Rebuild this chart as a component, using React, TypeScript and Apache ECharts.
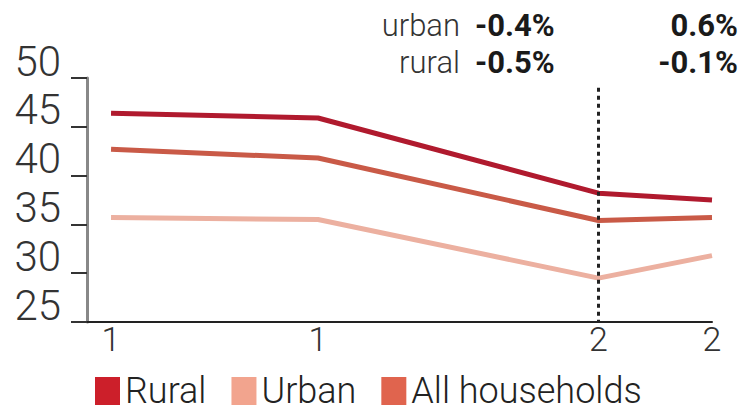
import React, { useEffect, useRef } from "react";
import * as echarts from "echarts";

const xValues = [1993, 1999.2, 2007.6, 2011];
const xLabels = ["1", "1", "2", "2"];
const seriesNames = ["Rural", "Urban", "All households"];
const rural = [46.4, 45.9, 38.2, 37.5];
const urban = [35.7, 35.5, 29.5, 31.8];
const allHouseholds = [42.7, 41.8, 35.4, 35.7];
const legendColors = ["#cc1f2a", "#f2a48e", "#e0644e"];
const lineColors = ["#b01a2e", "#ecb0a0", "#c95a47"];
const annotRows = [
  { label: "urban", a: "-0.4%", b: "0.6%" },
  { label: "rural", a: "-0.5%", b: "-0.1%" },
];

const FONT = "Roboto, 'Open Sans', sans-serif";

export default function App() {
  const ref = useRef<HTMLDivElement>(null);
  useEffect(() => {
    if (!ref.current) return;
    const chart = echarts.init(ref.current, null, { renderer: "svg" });
    const datasets = [rural, urban, allHouseholds];
    const rowY = [25, 62];
    const graphics: any[] = [];
    annotRows.forEach((r, i) => {
      graphics.push({
        type: "text",
        style: { text: r.label, x: 460, y: rowY[i], textAlign: "right", textVerticalAlign: "middle", fill: "#333", font: `300 31px ${FONT}`, lineHeight: 31 },
      });
      graphics.push({
        type: "text",
        style: { text: r.a, x: 475, y: rowY[i], textAlign: "left", textVerticalAlign: "middle", fill: "#1a1a1a", font: `bold 31px ${FONT}`, lineHeight: 31 },
      });
      graphics.push({
        type: "text",
        style: { text: r.b, x: 738, y: rowY[i], textAlign: "right", textVerticalAlign: "middle", fill: "#1a1a1a", font: `bold 31px ${FONT}`, lineHeight: 31 },
      });
    });
    chart.setOption({
      animation: false,
      backgroundColor: "#fff",
      grid: { left: 87, right: 27, top: 78, bottom: 90, containLabel: false, outerBoundsMode: "none" },
      legend: {
        data: seriesNames,
        left: 90,
        top: 368,
        icon: "rect",
        itemWidth: 25,
        itemHeight: 28,
        itemGap: 25,
        textStyle: { fontSize: 36, color: "#222", fontFamily: FONT, fontWeight: 300 },
      },
      xAxis: {
        type: "value",
        min: 1992.28,
        max: 2011,
        splitLine: { show: false },
        axisLine: { show: true, lineStyle: { color: "#222", width: 2 } },
        axisTick: { show: false },
        axisLabel: {
          customValues: xValues,
          formatter: (v: number) => xLabels[xValues.indexOf(v)] ?? "",
          fontSize: 34,
          margin: 0,
          color: "#333",
          fontFamily: FONT,
          fontWeight: 300,
        },
      },
      yAxis: {
        type: "value",
        min: 25,
        max: 50,
        interval: 5,
        splitLine: { show: false },
        axisLine: { show: true, lineStyle: { color: "#888", width: 3 } },
        axisTick: { show: true, length: 16, lineStyle: { color: "#333", width: 2 } },
        axisLabel: {
          fontSize: 42,
          color: "#333",
          margin: 26,
          fontFamily: FONT,
          fontWeight: 300,
          verticalAlign: "bottom",
          lineHeight: 34,
        },
      },
      series: seriesNames.map((name, i) => ({
        name,
        type: "line",
        data: xValues.map((x, j) => [x, datasets[i][j]]),
        showSymbol: false,
        symbol: "none",
        itemStyle: { color: legendColors[i] },
        lineStyle: { color: lineColors[i], width: 5 },
        z: i === 0 ? 4 : 3,
        markLine:
          i === 0
            ? {
                silent: true,
                symbol: ["none", "none"],
                label: { show: false },
                lineStyle: { color: "#222", type: [4, 4], width: 3 },
                data: [[{ coord: [xValues[2], 49] }, { coord: [xValues[2], 25] }]],
              }
            : undefined,
      })),
      graphic: graphics,
    });
    return () => chart.dispose();
  }, []);
  return <div ref={ref} style={{ width: 739, height: 412, position: "absolute", left: 0, top: 0 }} />;
}
